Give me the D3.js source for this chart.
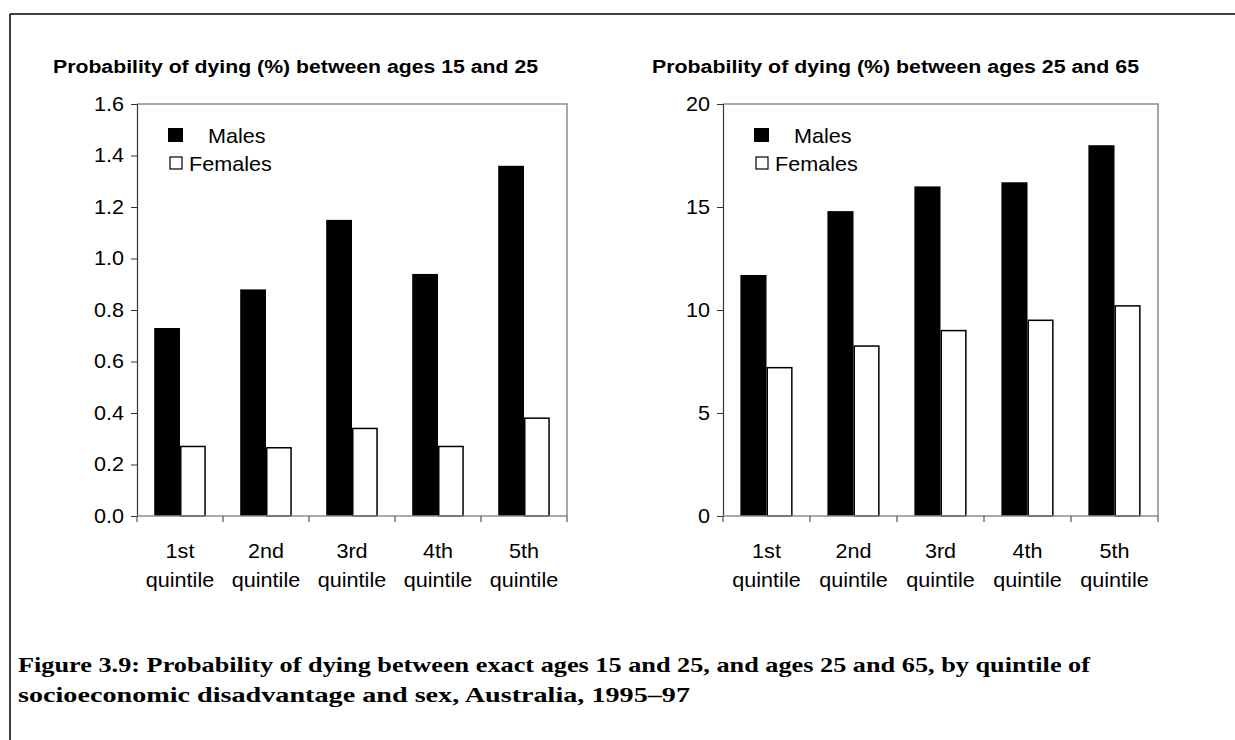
<!DOCTYPE html>
<html>
<head>
<meta charset="utf-8">
<script src="https://cdn.jsdelivr.net/npm/d3@7"></script>
<style>
  body { margin: 0; background: #fff; }
  svg { display: block; }
  .sans { font-family: Arial, "Liberation Sans", sans-serif; fill: #000; }
  .serif { font-family: "Liberation Serif", "DejaVu Serif", serif; fill: #000; }
</style>
</head>
<body>
<div class="viz"></div>
<script>
// quintiles of socioeconomic disadvantage
const quintiles = ['1st', '2nd', '3rd', '4th', '5th'];
const quintileWord = 'quintile';
const series = ['Males', 'Females'];

// probability of dying (%) between ages 15 and 25
const males15to25 = [0.73, 0.88, 1.15, 0.94, 1.36];
const females15to25 = [0.27, 0.265, 0.34, 0.27, 0.38];
const ticks15to25 = [0, 0.2, 0.4, 0.6, 0.8, 1.0, 1.2, 1.4, 1.6];

// probability of dying (%) between ages 25 and 65
const males25to65 = [11.7, 14.8, 16.0, 16.2, 18.0];
const females25to65 = [7.2, 8.25, 9.0, 9.5, 10.2];
const ticks25to65 = [0, 5, 10, 15, 20];

const titles = [
  'Probability of dying (%) between ages 15 and 25',
  'Probability of dying (%) between ages 25 and 65'
];
const caption = [
  'Figure 3.9: Probability of dying between exact ages 15 and 25, and ages 25 and 65, by quintile of',
  'socioeconomic disadvantage and sex, Australia, 1995\u201397'
];

const W = 1235, H = 740;
const sx = 1.08; // text in the source is a bit wider than tall
const fs = 20;

const svg = d3.select('.viz').append('svg')
  .attr('width', W)
  .attr('height', H);

// outer frame: top and left rules only
svg.append('line').attr('x1', 10).attr('y1', 14).attr('x2', W).attr('y2', 14)
  .attr('stroke', '#000').attr('stroke-width', 1.5);
svg.append('line').attr('x1', 10).attr('y1', 14).attr('x2', 10).attr('y2', H)
  .attr('stroke', '#000').attr('stroke-width', 1.5);

function drawPanel(opt) {
  const top = 104, bottom = 516;
  const x = d3.scaleBand().domain(quintiles).range([opt.left, opt.right]);
  const bw = x.bandwidth();
  const xs = d3.scaleBand().domain(series).range([bw * 0.2, bw * 0.8]);
  const y = d3.scaleLinear().domain(opt.domain).range([bottom, top]);

  const g = svg.append('g');

  // title
  g.append('text').attr('class', 'sans')
    .attr('x', opt.titleX).attr('y', 73)
    .attr('font-size', 18).attr('font-weight', 'bold')
    .attr('textLength', opt.titleW).attr('lengthAdjust', 'spacingAndGlyphs')
    .text(opt.title);

  // plot frame (top and right in grey)
  g.append('path')
    .attr('d', `M${opt.left},${top}H${opt.right}V${bottom}`)
    .attr('fill', 'none').attr('stroke', '#8c8c8c').attr('stroke-width', 1.5);

  // bars
  const rows = quintiles.map((q, i) => ({ q, Males: opt.males[i], Females: opt.females[i] }));
  const grp = g.selectAll('.grp').data(rows).join('g')
    .attr('transform', d => `translate(${x(d.q)},0)`);

  grp.append('rect')
    .attr('x', xs('Males'))
    .attr('y', d => y(d.Males))
    .attr('width', xs.bandwidth())
    .attr('height', d => y(0) - y(d.Males))
    .attr('fill', '#000');

  grp.append('rect')
    .attr('x', xs('Females') + 0.75)
    .attr('y', d => y(d.Females))
    .attr('width', xs.bandwidth() - 1.5)
    .attr('height', d => y(0) - y(d.Females))
    .attr('fill', '#fff').attr('stroke', '#000').attr('stroke-width', 1.5);

  // y axis
  const yAxis = g.append('g')
    .attr('transform', `translate(${opt.left},0)`)
    .call(d3.axisLeft(y).tickValues(opt.ticks).tickFormat(opt.fmt).tickSize(6).tickPadding(6));
  yAxis.select('.domain').attr('stroke', '#333').attr('stroke-width', 1.2);
  yAxis.selectAll('.tick line').attr('stroke', '#333');
  yAxis.selectAll('.tick text')
    .attr('class', 'sans')
    .attr('font-size', fs)
    .attr('transform', `scale(${sx},1)`);

  // x axis: baseline, ticks at category edges, two-line labels
  g.append('line')
    .attr('x1', opt.left).attr('x2', opt.right)
    .attr('y1', y(0)).attr('y2', y(0))
    .attr('stroke', '#8c8c8c').attr('stroke-width', 1.5);
  const edges = quintiles.map(q => x(q)).concat([x.range()[1]]);
  g.selectAll('.xtick').data(edges).join('line')
    .attr('x1', d => d).attr('x2', d => d)
    .attr('y1', y(0)).attr('y2', y(0) + 6)
    .attr('stroke', '#333');

  const lab = g.selectAll('.xlab').data(quintiles).join('g')
    .attr('transform', d => `translate(${x(d) + bw / 2},0) scale(${sx},1)`);
  lab.append('text').attr('class', 'sans').attr('y', 558).attr('text-anchor', 'middle')
    .attr('font-size', fs).text(d => d);
  lab.append('text').attr('class', 'sans').attr('y', 587).attr('text-anchor', 'middle')
    .attr('font-size', fs).text(quintileWord);

  // legend
  const lx = opt.left + 31;
  g.append('rect').attr('x', lx).attr('y', 128).attr('width', 15).attr('height', 14)
    .attr('fill', '#000');
  g.append('text').attr('class', 'sans').attr('transform', `translate(${lx + 40},143) scale(${sx},1)`)
    .attr('font-size', fs).text(series[0]);
  g.append('rect').attr('x', lx + 2).attr('y', 157).attr('width', 12).attr('height', 12)
    .attr('fill', '#fff').attr('stroke', '#000').attr('stroke-width', 1.2);
  g.append('text').attr('class', 'sans').attr('transform', `translate(${lx + 21},171) scale(${sx},1)`)
    .attr('font-size', fs).text(series[1]);
}

drawPanel({
  left: 137, right: 567, domain: [0, 1.6], ticks: ticks15to25, fmt: d3.format('.1f'),
  males: males15to25, females: females15to25,
  title: titles[0], titleX: 53, titleW: 485
});

drawPanel({
  left: 723, right: 1158, domain: [0, 20], ticks: ticks25to65, fmt: d3.format('d'),
  males: males25to65, females: females25to65,
  title: titles[1], titleX: 652, titleW: 487
});

// figure caption
caption.forEach((line, i) => {
  svg.append('text').attr('class', 'serif')
    .attr('x', 18).attr('y', 672 + i * 30)
    .attr('font-size', 21).attr('font-weight', 'bold')
    .attr('textLength', i === 0 ? 1072 : 672).attr('lengthAdjust', 'spacingAndGlyphs')
    .text(line);
});
</script>
</body>
</html>
